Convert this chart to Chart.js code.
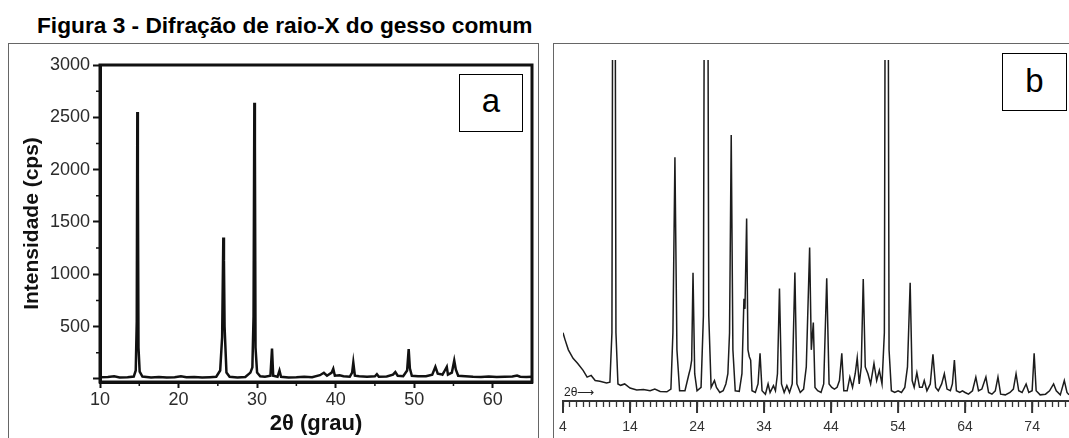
<!DOCTYPE html>
<html>
<head>
<meta charset="utf-8">
<script src="https://cdn.jsdelivr.net/npm/chart.js@4.4.0/dist/chart.umd.min.js"></script>
<style>
  body { margin: 0; background: #fff; width: 1069px; height: 438px; overflow: hidden; position: relative;
         font-family: "Liberation Sans", Arial, sans-serif; }
  #title { position: absolute; left: 37px; top: 14px; font-size: 22.7px; font-weight: bold; line-height: 22px;
           white-space: nowrap; color: #000; }
  .frame { position: absolute; border: 1px solid #666; }
  #frameA { left: 8px; top: 43px; width: 529px; height: 420px; }
  #frameB { left: 553px; top: 43px; width: 560px; height: 420px; }
  canvas { position: absolute; }
  #chartA { left: 9px; top: 44px; }
  #chartB { left: 554px; top: 44px; }
  .tag { position: absolute; border: 1.5px solid #000; background: #fff; text-align: center; color: #000; }
  #tagA { left: 459px; top: 74px; width: 62px; height: 56px; font-size: 33px; line-height: 52px; }
  #tagB { left: 1002px; top: 53px; width: 63px; height: 56px; font-size: 33px; line-height: 54px; }
  #arrow { position: absolute; left: 564px; top: 385px; font-size: 12px; color: #222; white-space: nowrap; }
</style>
</head>
<body>
<div id="title">Figura 3 - Difração de raio-X do gesso comum</div>
<div class="frame" id="frameA"></div>
<div class="frame" id="frameB"></div>
<canvas id="chartA" width="529" height="394"></canvas>
<canvas id="chartB" width="515" height="394"></canvas>
<div class="tag" id="tagA">a</div>
<div class="tag" id="tagB">b</div>
<div id="arrow">2θ⟶</div>
<script>
// panel a: 2theta (grau) vs intensidade (cps)
var angA = [10.0, 11.0, 11.8, 12.5, 13.5, 14.3, 14.55, 14.68, 14.75, 14.82, 14.9, 15.05, 15.4,
            16.5, 17.5, 18.5, 19.5, 20.3, 21.0, 22.0, 23.0, 24.0, 24.8,
            25.3, 25.55, 25.7, 25.78, 25.86, 26.1, 26.5, 27.5, 28.5,
            29.15, 29.4, 29.55, 29.65, 29.72, 29.8, 30.0, 30.4, 31.0,
            31.7, 31.9, 32.05, 32.6, 32.85, 33.05, 34.0, 35.0, 36.0, 37.0,
            38.0, 38.5, 38.9, 39.5, 39.7, 39.9, 40.5, 41.0, 41.8, 42.1, 42.25, 42.45,
            43.0, 44.0, 45.0, 45.25, 45.5, 46.5, 47.3, 47.6, 47.9, 48.6,
            49.1, 49.3, 49.45, 49.7, 50.5, 51.5, 52.3, 52.7, 53.0, 53.4, 53.6, 53.9,
            54.15, 54.3, 54.8, 55.1, 55.3, 55.6, 56.5, 57.5, 58.5, 59.5,
            60.5, 61.5, 62.5, 63.1, 63.5, 64.3, 65.0];
var cpsA = [15, 18, 25, 14, 16, 22, 80, 550, 2550, 1950, 300, 70, 22,
            14, 18, 12, 16, 25, 15, 17, 12, 16, 20,
            80, 400, 1350, 1130, 500, 60, 20, 14, 18,
            60, 110, 600, 2640, 2230, 300, 60, 25, 20,
            30, 290, 30, 20, 80, 20, 14, 16, 20, 15,
            35, 58, 30, 60, 96, 30, 35, 25, 20, 60, 155, 30,
            25, 20, 25, 45, 20, 22, 40, 65, 30, 25,
            80, 285, 100, 30, 25, 25, 40, 115, 50, 45, 40, 80,
            115, 40, 60, 175, 90, 30, 25, 20, 18, 22,
            18, 20, 22, 32, 20, 18, 20];
var yTicksA = [0, 500, 1000, 1500, 2000, 2500, 3000];
var xTicksA = [10, 20, 30, 40, 50, 60];

// panel b: 2theta vs intensidade relativa (picos cortados no topo)
var angB = [4.0, 4.3, 4.8, 5.5, 6.2, 7.0, 7.6, 8.2, 8.8, 9.5, 10.5, 11.0, 11.3, 11.6, 11.9, 12.2, 12.6, 13.2,
            14.0, 15.0, 16.0, 17.0, 17.7, 18.5, 19.5, 20.1, 20.4, 20.7, 21.0, 21.4, 22.2, 22.8, 23.0, 23.2,
            23.4, 23.65, 24.0, 24.6, 24.95, 25.35, 25.75, 26.1, 26.6, 26.9, 27.4, 27.9, 28.3, 28.6, 28.85,
            29.1, 29.35, 29.7, 30.3, 30.7, 31.0, 31.15, 31.4, 31.6, 31.8, 32.0, 32.2, 32.7, 33.1, 33.4,
            33.7, 34.2, 34.6, 34.9, 35.4, 35.7, 36.0, 36.3, 36.6, 37.0, 37.4, 37.8, 38.2, 38.6, 38.9,
            39.4, 39.9, 40.3, 40.8, 41.05, 41.35, 41.6, 42.0, 42.5, 42.9, 43.35, 43.7, 44.1, 44.5, 44.9,
            45.25, 45.6, 45.9, 46.4, 46.8, 47.2, 47.6, 47.9, 48.2, 48.5, 48.8, 49.1, 49.5, 49.9, 50.4,
            50.8, 51.2, 51.6, 51.95, 52.3, 52.65, 53.0, 53.5, 54.0, 54.5, 55.0, 55.4, 55.8, 56.1, 56.4,
            56.8, 57.2, 57.6, 57.9, 58.3, 58.8, 59.2, 59.6, 60.0, 60.5, 60.9, 61.3, 61.8, 62.1, 62.4,
            62.7, 63.2, 63.6, 64.0, 64.5, 65.1, 65.6, 66.0, 66.5, 67.1, 67.5, 68.0, 68.5, 68.9, 69.3,
            70.0, 70.7, 71.2, 71.6, 72.0, 72.5, 73.1, 73.5, 74.0, 74.3, 74.6, 75.2, 76.0, 76.6, 77.2,
            77.6, 78.2, 78.8, 79.2, 79.5];
var intB = [20, 18, 15, 12.5, 11, 9, 7, 7.5, 6, 5.8, 5.3, 5.5, 20, 300, 20, 5, 4.6, 5,
            3.8, 3.2, 3.4, 3.0, 3.5, 2.8, 2.7, 3.5, 20, 71.5, 15, 3, 3, 8, 9.5, 12,
            37.6, 8, 3, 4, 25, 320, 25, 4, 6, 4, 2.5, 3, 5, 8, 20,
            78, 15, 3, 2.8, 8, 30, 27, 53.5, 15, 13, 12, 3, 2.5, 5, 14,
            3, 2, 5, 2.5, 4.5, 3, 8, 33, 5, 2.5, 4.5, 2.5, 5, 37.7, 5,
            2.5, 3.5, 10, 45, 15, 23, 4, 3, 2.5, 5, 36, 5, 4, 3.5, 4,
            6, 14, 3, 3, 7, 4, 8, 12.7, 5, 10, 35.8, 10, 8, 5, 11,
            6, 9, 5, 20, 320, 15, 3, 2.5, 3, 2.5, 4, 10, 34.7, 6, 4,
            8.3, 4, 4, 6, 3, 5, 13.7, 4, 3, 5, 8, 3.5, 3, 5, 12,
            3, 2.5, 3, 2.5, 2, 3, 7, 3, 3.5, 7, 2.5, 2, 3, 7, 2,
            1.8, 2.5, 3.5, 8, 3, 2.5, 5, 2.5, 3, 14, 3, 1.8, 2, 3, 5,
            3, 1.8, 6, 2.5, 1.8];
var majorB = [4, 14, 24, 34, 44, 54, 64, 74];

function pts(xs, ys) {
    return xs.map(function(x, i) { return {x: x, y: ys[i]}; });
}

var frameA = {
    id: 'frameA',
    afterDatasetsDraw: function(chart) {
        var ctx = chart.ctx, a = chart.chartArea;
        var xs = chart.scales.x, ys = chart.scales.y;
        ctx.save();
        ctx.strokeStyle = '#111';
        ctx.lineWidth = 3;
        ctx.strokeRect(a.left, a.top, a.right - a.left, a.bottom - a.top);
        // minor ticks
        ctx.lineWidth = 1.5;
        ctx.beginPath();
        [250, 750, 1250, 1750, 2250, 2750].forEach(function(v) {
            var y = ys.getPixelForValue(v);
            ctx.moveTo(a.left - 4, y); ctx.lineTo(a.left, y);
        });
        [15, 25, 35, 45, 55].forEach(function(v) {
            var x = xs.getPixelForValue(v);
            ctx.moveTo(x, a.bottom); ctx.lineTo(x, a.bottom + 4);
        });
        ctx.stroke();
        ctx.restore();
    }
};

var majorTicksB = {
    id: 'majorTicksB',
    afterDraw: function(chart) {
        var ctx = chart.ctx, a = chart.chartArea, xs = chart.scales.x;
        ctx.save();
        ctx.strokeStyle = '#333';
        ctx.lineWidth = 2;
        ctx.beginPath();
        majorB.forEach(function(v) {
            var x = xs.getPixelForValue(v);
            ctx.moveTo(x, a.bottom); ctx.lineTo(x, a.bottom + 12);
        });
        ctx.stroke();
        ctx.restore();
    }
};

var chartA = new Chart(document.getElementById('chartA').getContext('2d'), {
    type: 'line',
    data: {
        datasets: [{
            data: pts(angA, cpsA),
            borderColor: '#111',
            borderWidth: 2.5,
            pointRadius: 0,
            tension: 0
        }]
    },
    options: {
        responsive: false,
        animation: false,
        events: [],
        layout: {padding: {top: 21, right: 6, left: 0, bottom: 0}},
        plugins: {legend: {display: false}, tooltip: {enabled: false}},
        scales: {
            x: {
                type: 'linear', min: 10, max: 65,
                afterFit: function(s) { s.height = 56; },
                afterBuildTicks: function(s) { s.ticks = xTicksA.map(function(v) { return {value: v}; }); },
                grid: {drawOnChartArea: false, tickLength: 6, tickWidth: 2, tickColor: '#111'},
                border: {width: 3, color: '#111'},
                ticks: {font: {size: 18, family: 'Liberation Sans'}, color: '#2b2b2b', padding: 1, maxRotation: 0},
                title: {display: true, text: '2θ (grau)', color: '#111',
                        font: {size: 22, weight: 'bold', family: 'Liberation Sans'}, padding: {top: 0, bottom: 1}}
            },
            y: {
                min: -30, max: 3000,
                afterFit: function(s) { s.width = 91; },
                afterBuildTicks: function(s) { s.ticks = yTicksA.map(function(v) { return {value: v}; }); },
                grid: {drawOnChartArea: false, tickLength: 7, tickWidth: 2, tickColor: '#111'},
                border: {width: 3, color: '#111'},
                ticks: {font: {size: 18, family: 'Liberation Sans'}, color: '#2b2b2b', padding: 3,
                        callback: function(v) { return v === 0 ? '' : v; }},
                title: {display: true, text: 'Intensidade (cps)', color: '#111',
                        font: {size: 21, weight: 'bold', family: 'Liberation Sans'}, padding: {top: 11, bottom: 0}}
            }
        }
    },
    plugins: [frameA]
});

var chartB = new Chart(document.getElementById('chartB').getContext('2d'), {
    type: 'line',
    data: {
        datasets: [{
            data: pts(angB, intB),
            borderColor: '#1c1c1c',
            borderWidth: 1.5,
            pointRadius: 0,
            tension: 0
        }]
    },
    options: {
        responsive: false,
        animation: false,
        events: [],
        layout: {padding: {top: 16, right: 0, left: 9, bottom: 0}},
        plugins: {legend: {display: false}, tooltip: {enabled: false}},
        scales: {
            x: {
                type: 'linear', min: 4, max: 79.5,
                afterFit: function(s) { s.height = 37; s.paddingLeft = 0; s.paddingRight = 0; },
                afterBuildTicks: function(s) {
                    var t = [];
                    for (var v = 4; v <= 79; v++) t.push({value: v});
                    s.ticks = t;
                },
                grid: {drawOnChartArea: false, tickLength: 6, tickWidth: 1.3, tickColor: '#333'},
                border: {width: 2, color: '#333'},
                ticks: {font: {size: 14, family: 'Liberation Sans'}, color: '#333', padding: 12,
                        autoSkip: false, maxRotation: 0,
                        callback: function(v) { return majorB.indexOf(v) >= 0 ? v : ''; }}
            },
            y: {display: false, min: 0, max: 100}
        }
    },
    plugins: [majorTicksB]
});
</script>
</body>
</html>
